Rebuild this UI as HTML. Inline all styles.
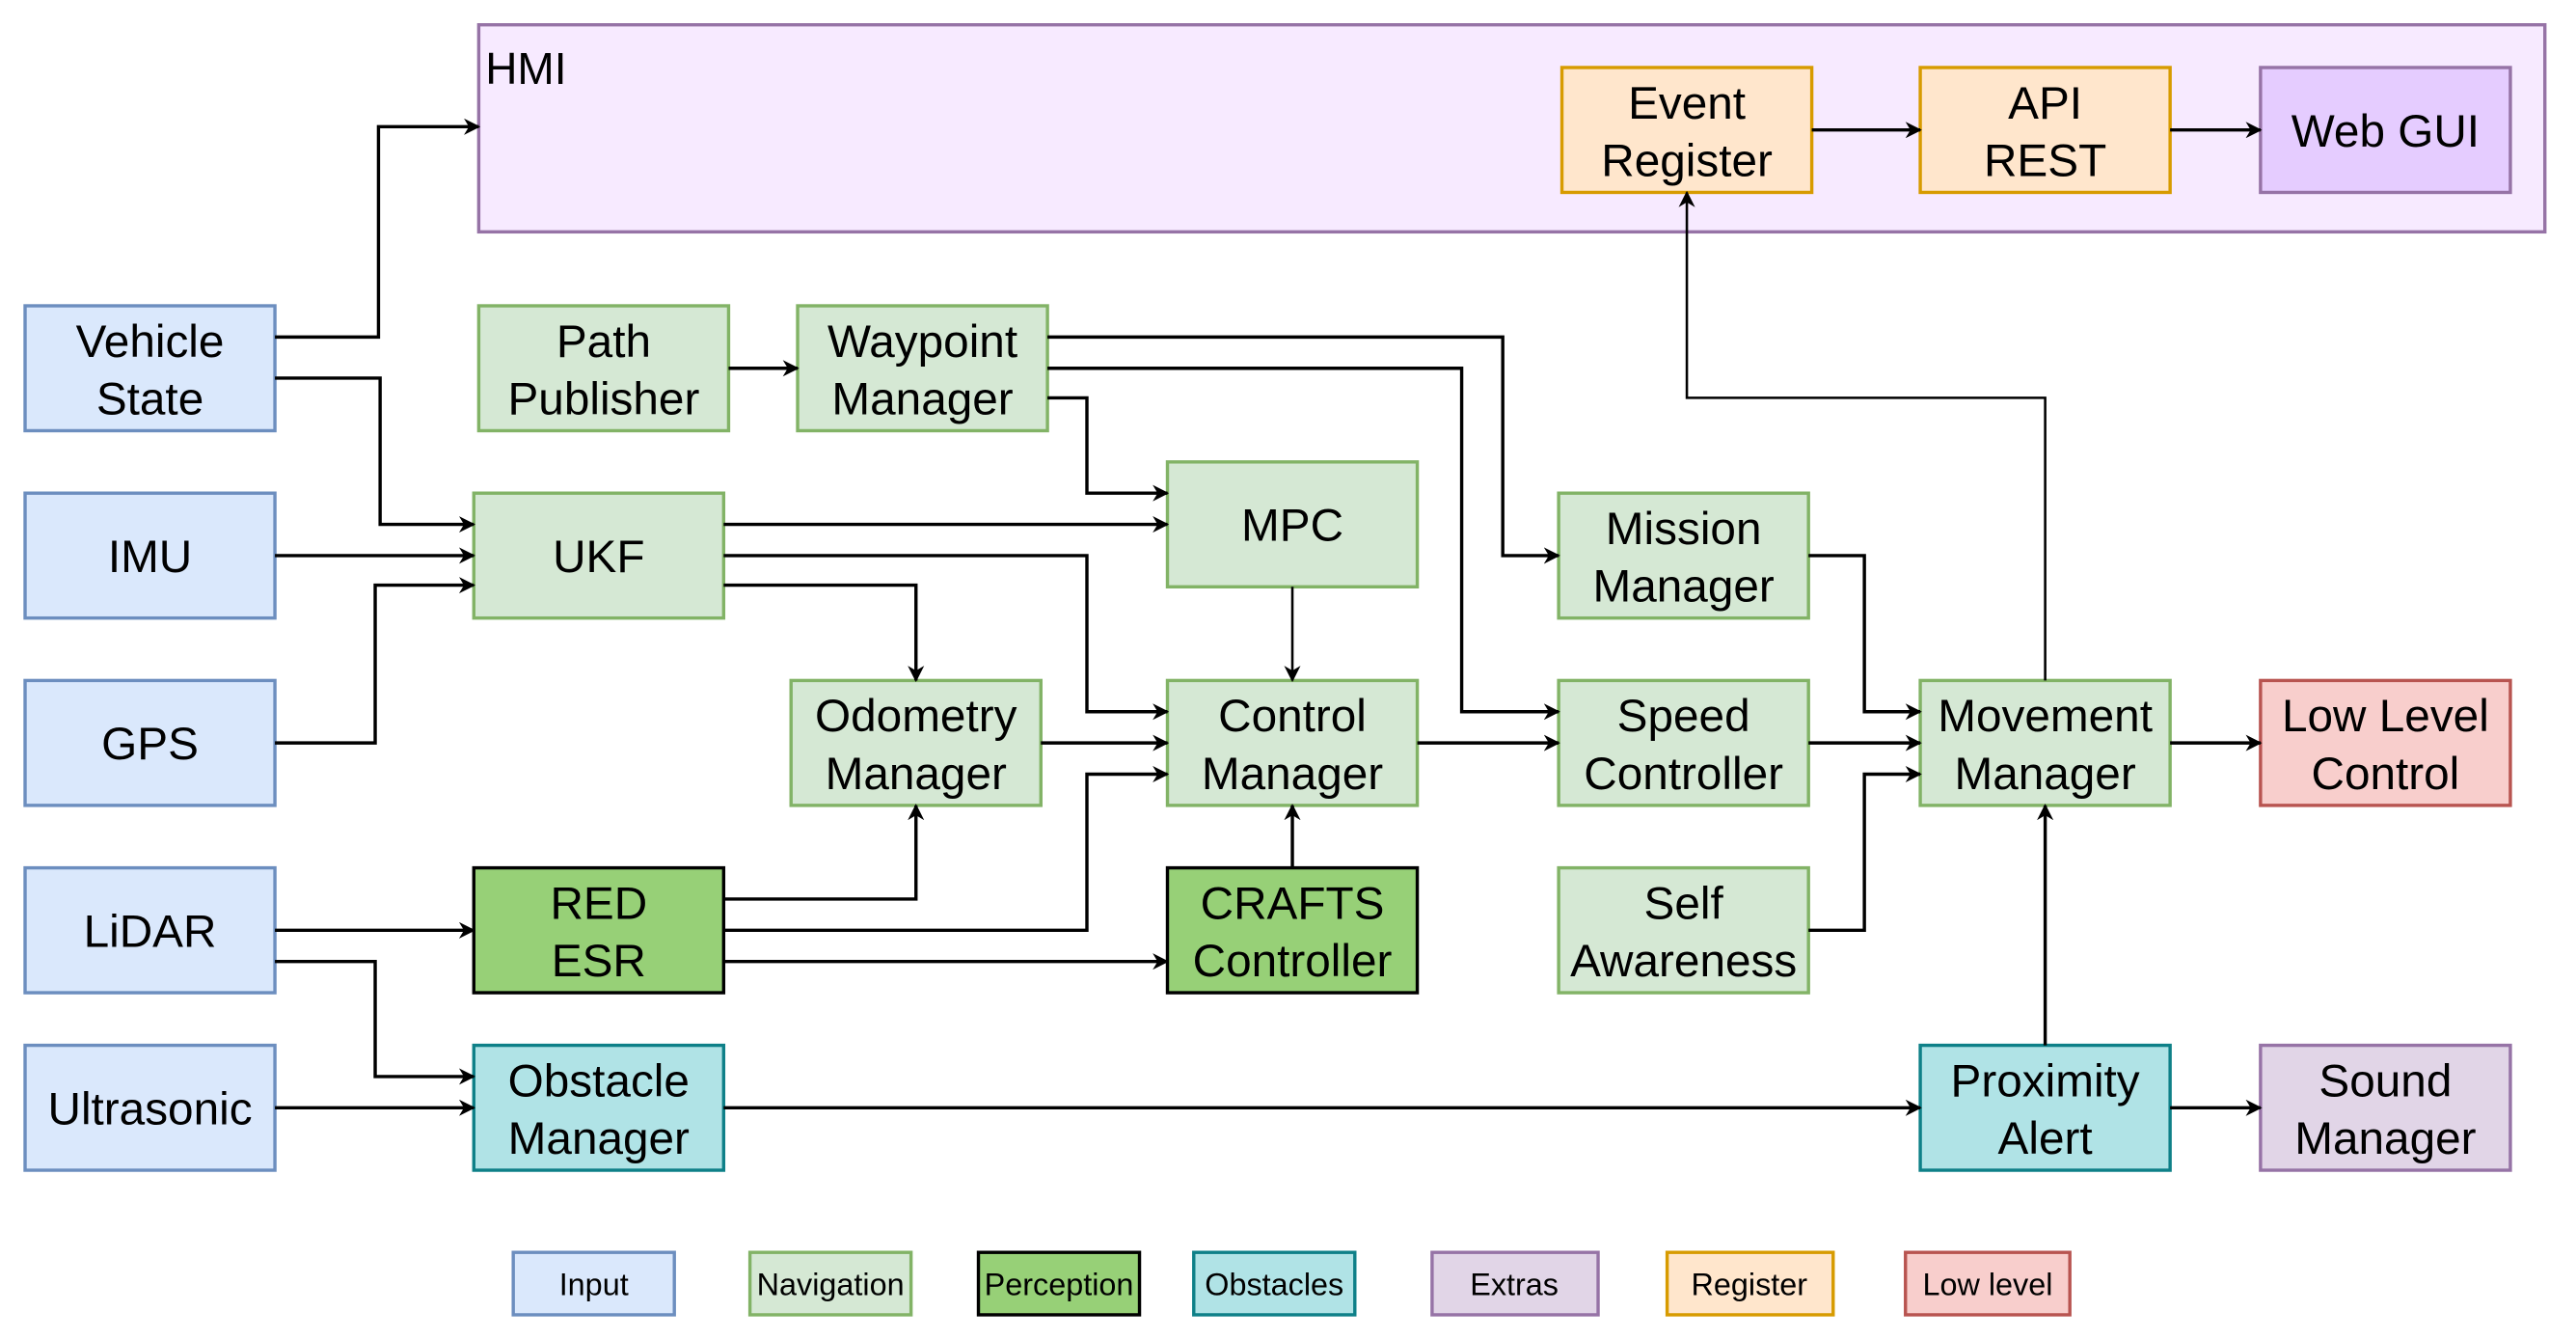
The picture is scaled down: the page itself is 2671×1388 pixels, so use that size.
<!DOCTYPE html>
<html><head><meta charset="utf-8"><style>
html,body{margin:0;padding:0;background:#fff}
svg{display:block}
text{font-family:"Liberation Sans",Arial,sans-serif;fill:#000}
</style></head><body>
<svg width="2671" height="1388" viewBox="-0.26 -0.09 1567.2 814.8" preserveAspectRatio="none" xmlns="http://www.w3.org/2000/svg">
<defs>
<marker id="a" markerWidth="10" markerHeight="10" refX="9" refY="5" orient="auto" markerUnits="userSpaceOnUse">
<path d="M0,0 L10,5 L0,10 L3,5 Z" fill="#000"/>
</marker>
</defs>
<rect x="291" y="15" width="1257" height="126" fill="#f7eaff" stroke="#9673a6" stroke-width="2"/>
<text x="295" y="51" font-size="27">HMI</text>
<g stroke-width="2">
<rect x="950" y="41" width="152" height="76" fill="#ffe6cc" stroke="#d79b00"/>
<rect x="1168" y="41" width="152" height="76" fill="#ffe6cc" stroke="#d79b00"/>
<rect x="1375" y="41" width="152" height="76" fill="#e5ccff" stroke="#9673a6"/>
<rect x="15" y="186" width="152" height="76" fill="#dae8fc" stroke="#6c8ebf"/>
<rect x="15" y="300" width="152" height="76" fill="#dae8fc" stroke="#6c8ebf"/>
<rect x="15" y="414" width="152" height="76" fill="#dae8fc" stroke="#6c8ebf"/>
<rect x="15" y="528" width="152" height="76" fill="#dae8fc" stroke="#6c8ebf"/>
<rect x="15" y="636" width="152" height="76" fill="#dae8fc" stroke="#6c8ebf"/>
<rect x="291" y="186" width="152" height="76" fill="#d5e8d4" stroke="#82b366"/>
<rect x="485" y="186" width="152" height="76" fill="#d5e8d4" stroke="#82b366"/>
<rect x="288" y="300" width="152" height="76" fill="#d5e8d4" stroke="#82b366"/>
<rect x="710" y="281" width="152" height="76" fill="#d5e8d4" stroke="#82b366"/>
<rect x="948" y="300" width="152" height="76" fill="#d5e8d4" stroke="#82b366"/>
<rect x="481" y="414" width="152" height="76" fill="#d5e8d4" stroke="#82b366"/>
<rect x="710" y="414" width="152" height="76" fill="#d5e8d4" stroke="#82b366"/>
<rect x="948" y="414" width="152" height="76" fill="#d5e8d4" stroke="#82b366"/>
<rect x="1168" y="414" width="152" height="76" fill="#d5e8d4" stroke="#82b366"/>
<rect x="1375" y="414" width="152" height="76" fill="#f8cecc" stroke="#b85450"/>
<rect x="288" y="528" width="152" height="76" fill="#97d077" stroke="#000"/>
<rect x="710" y="528" width="152" height="76" fill="#97d077" stroke="#000"/>
<rect x="948" y="528" width="152" height="76" fill="#d5e8d4" stroke="#82b366"/>
<rect x="288" y="636" width="152" height="76" fill="#b0e3e6" stroke="#0e8088"/>
<rect x="1168" y="636" width="152" height="76" fill="#b0e3e6" stroke="#0e8088"/>
<rect x="1375" y="636" width="152" height="76" fill="#e1d5e7" stroke="#9673a6"/>
<rect x="312" y="762" width="98" height="38" fill="#dae8fc" stroke="#6c8ebf"/>
<rect x="456" y="762" width="98" height="38" fill="#d5e8d4" stroke="#82b366"/>
<rect x="595" y="762" width="98" height="38" fill="#97d077" stroke="#000"/>
<rect x="726" y="762" width="98" height="38" fill="#b0e3e6" stroke="#0e8088"/>
<rect x="871" y="762" width="101" height="38" fill="#e1d5e7" stroke="#9673a6"/>
<rect x="1014" y="762" width="101" height="38" fill="#ffe6cc" stroke="#d79b00"/>
<rect x="1159" y="762" width="100" height="38" fill="#f8cecc" stroke="#b85450"/>
</g>
<g fill="none" stroke="#000" stroke-width="2" marker-end="url(#a)">
<polyline points="1102,79 1168,79"/>
<polyline points="1320,79 1375,79"/>
<polyline points="167,205 230,205 230,77 291,77"/>
<polyline points="167,230 231,230 231,319 288,319"/>
<polyline points="167,338 288,338"/>
<polyline points="167,452 228,452 228,356 288,356"/>
<polyline points="443,224 485,224"/>
<polyline points="637,205 914,205 914,338 948,338"/>
<polyline points="637,224 889,224 889,433 948,433"/>
<polyline points="637,242 661,242 661,300 710,300"/>
<polyline points="440,319 710,319"/>
<polyline points="440,338 661,338 661,433 710,433"/>
<polyline points="440,356 557,356 557,414"/>
<polyline points="786,357 786,414" stroke-width="1.5"/>
<polyline points="633,452 710,452"/>
<polyline points="440,547 557,547 557,490"/>
<polyline points="440,566 661,566 661,471 710,471"/>
<polyline points="440,585 710,585"/>
<polyline points="786,528 786,490"/>
<polyline points="862,452 948,452"/>
<polyline points="1100,338 1134,338 1134,433 1168,433"/>
<polyline points="1100,452 1168,452"/>
<polyline points="1100,566 1134,566 1134,471 1168,471"/>
<polyline points="1244,414 1244,242 1026,242 1026,117" stroke-width="1.5"/>
<polyline points="1320,452 1375,452"/>
<polyline points="1244,636 1244,490"/>
<polyline points="1320,674 1375,674"/>
<polyline points="167,566 288,566"/>
<polyline points="167,585 228,585 228,655 288,655"/>
<polyline points="167,674 288,674"/>
<polyline points="440,674 1168,674"/>
</g>
<g font-size="28" text-anchor="middle">
<text x="1026" y="72">Event</text><text x="1026" y="107">Register</text>
<text x="1244" y="72">API</text><text x="1244" y="107">REST</text>
<text x="1451" y="89">Web GUI</text>
<text x="91" y="217">Vehicle</text><text x="91" y="252">State</text>
<text x="91" y="348">IMU</text>
<text x="91" y="462">GPS</text>
<text x="91" y="576">LiDAR</text>
<text x="91" y="684">Ultrasonic</text>
<text x="367" y="217">Path</text><text x="367" y="252">Publisher</text>
<text x="561" y="217">Waypoint</text><text x="561" y="252">Manager</text>
<text x="364" y="348">UKF</text>
<text x="786" y="329">MPC</text>
<text x="1024" y="331">Mission</text><text x="1024" y="366">Manager</text>
<text x="557" y="445">Odometry</text><text x="557" y="480">Manager</text>
<text x="786" y="445">Control</text><text x="786" y="480">Manager</text>
<text x="1024" y="445">Speed</text><text x="1024" y="480">Controller</text>
<text x="1244" y="445">Movement</text><text x="1244" y="480">Manager</text>
<text x="1451" y="445">Low Level</text><text x="1451" y="480">Control</text>
<text x="364" y="559">RED</text><text x="364" y="594">ESR</text>
<text x="786" y="559">CRAFTS</text><text x="786" y="594">Controller</text>
<text x="1024" y="559">Self</text><text x="1024" y="594">Awareness</text>
<text x="364" y="667">Obstacle</text><text x="364" y="702">Manager</text>
<text x="1244" y="667">Proximity</text><text x="1244" y="702">Alert</text>
<text x="1451" y="667">Sound</text><text x="1451" y="702">Manager</text>
</g>
<g font-size="19" text-anchor="middle">
<text x="361" y="788">Input</text>
<text x="505" y="788">Navigation</text>
<text x="644" y="788">Perception</text>
<text x="775" y="788">Obstacles</text>
<text x="921" y="788">Extras</text>
<text x="1064" y="788">Register</text>
<text x="1209" y="788">Low level</text>
</g>
</svg>
</body></html>
